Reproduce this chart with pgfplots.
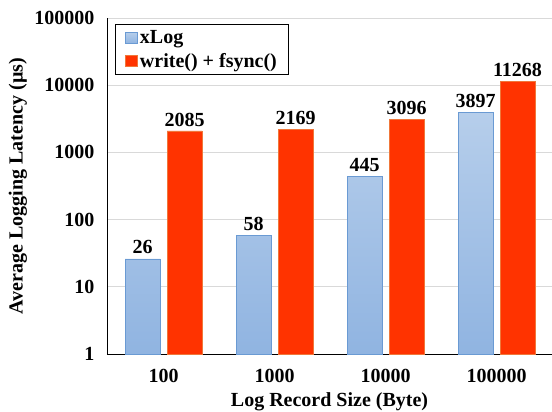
\documentclass[border=0pt]{standalone}
\usepackage{fontspec}
\setmainfont{Liberation Serif}[BoldFont={Liberation Serif Bold}]
\usepackage{pgfplots}
\pgfplotsset{compat=1.18}
\definecolor{bluetop}{HTML}{B6CEEB}
\definecolor{bluebot}{HTML}{90B4E1}
\definecolor{blueedge}{HTML}{6A9AD3}
\definecolor{redfill}{HTML}{FF3300}
\definecolor{rededge}{HTML}{F0773A}
\begin{document}
\begin{tikzpicture}[font=\fontsize{20}{23}\selectfont\bfseries]
\useasboundingbox (-107pt,-58pt) rectangle (445pt,354pt);
\begin{axis}[
  at={(0,0)}, anchor=south west,
  scale only axis, width=445pt, height=336pt,
  ymode=log, ymin=1, ymax=100000,
  ytick={1,10,100,1000,10000,100000},
  yticklabels={1,10,100,1000,10000,100000},
  xmin=-0.51, xmax=3.5,
  xtick={0,1,2,3}, xticklabels={100,1000,10000,100000},
  axis x line*=bottom, axis y line*=left,
  axis line style={-, black, line width=0.8pt},
  ymajorgrids, grid style={black!15, line width=0.8pt},
  major tick length=0pt, minor tick length=0pt,
  yticklabel style={xshift=-9pt},
  xticklabel style={yshift=-12pt},
  ylabel={Average Logging Latency (µs)},
  xlabel={Log Record Size (Byte)},
  ylabel style={at={(axis description cs:-0.2,0.5)}, anchor=center},
  xlabel style={at={(axis description cs:0.5,-0.143)}, anchor=center},
  ybar=7pt, bar width=35pt,
  nodes near coords, point meta=explicit symbolic,
  every node near coord/.append style={yshift=1pt},
  clip=false,
  legend cell align=left,
  legend style={at={(axis description cs:0,1)}, anchor=north west,
    xshift=8pt, yshift=-6pt, draw=black, line width=0.8pt,
    inner xsep=10pt, inner ysep=3pt, row sep=2pt,
    nodes={inner xsep=2pt, inner ysep=3pt}},
  legend image code/.code={\draw[#1, line width=0.6pt] (0pt,-5.5pt) rectangle (12pt,5.5pt);},
]
\addplot[draw=blueedge, line width=0.8pt, top color=bluetop, bottom color=bluebot]
  coordinates {(0,26) [26] (1,58) [58] (2,445) [445] (3,3897) [3897]};
\addplot[draw=rededge, line width=0.8pt, fill=redfill]
  coordinates {(0,2085) [2085] (1,2169) [2169] (2,3096) [3096] (3,11268) [11268]};
\legend{xLog, write() + fsync()}
\end{axis}
\end{tikzpicture}
\end{document}
